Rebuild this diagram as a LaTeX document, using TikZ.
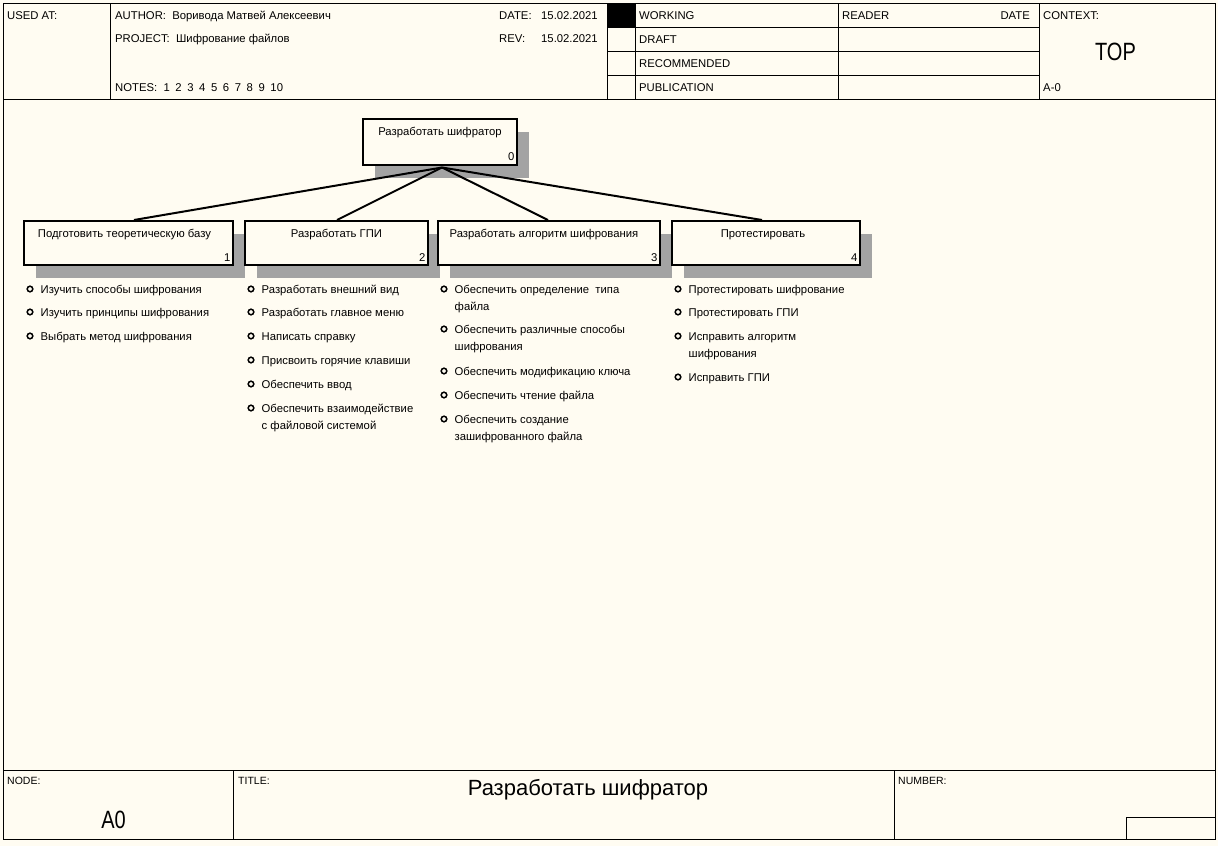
\documentclass[tikz,border=0pt]{standalone}
\usepackage{fontspec}
\usepackage{graphicx}
\setmainfont{Liberation Sans}
\usetikzlibrary{calc,shadows}
\definecolor{paper}{RGB}{255,252,242}
\definecolor{dither}{gray}{0.64}
\newcommand{\fs}[1]{\fontsize{#1}{#1}\selectfont}
\newcommand{\lnstrut}{\rule{0pt}{10pt}}
\newcommand{\gap}{\hspace{5.6pt}}
% bullet item: name, bullet x, row centre y, text
\newcommand{\bitem}[4]{%
  \node[dot] (#1d) at (#2,#3) {};
  \node[itemtext] (#1) at (#2+10.5,#3-5.7) {\lnstrut#4};
}
\begin{document}
\begin{tikzpicture}[x=1pt,y=-1pt,
  frame/.style={line width=1pt},
  hdr/.style={anchor=base west, inner sep=0pt, font=\fs{11.3}},
  hdrR/.style={anchor=base east, inner sep=0pt, font=\fs{11.3}},
  foot/.style={anchor=base west, inner sep=0pt, font=\fs{10.5}},
  actbox/.style={draw, line width=2pt, fill=paper, inner sep=0pt,
    general shadow={fill=dither, shadow xshift=12pt, shadow yshift=-13pt}},
  acttitle/.style={anchor=base, inner sep=0pt, font=\fs{11.3}},
  actnum/.style={anchor=base east, inner sep=0pt, font=\fs{11.3}},
  link/.style={line width=2pt},
  dot/.style={circle, draw, line width=1.5pt, inner sep=0pt, minimum size=5.6pt},
  itemtext/.style={anchor=north west, inner sep=0pt, align=left, font=\fontsize{11.3}{16.5}\selectfont},
]
% sheet
\fill[paper] (0,0) rectangle (1218,846);
\useasboundingbox (0,0) rectangle (1218,846);

% outer frame and the header / footer bands
\draw[frame] (3,3) rectangle (1215,839);
\draw[frame] (3,99) -- (1215,99);
\draw[frame] (3,770) -- (1215,770);
\foreach \vx in {110,607,635,838,1039} \draw[frame] (\vx,3) -- (\vx,99);
\foreach \hy in {27,51,75} \draw[frame] (607,\hy) -- (1039,\hy);
\fill (607,3) rectangle (635,27);

% header texts
\node[hdr] (usedat) at (7,19.5) {USED AT:};
\node[hdr] (author) at (115,19.5) {AUTHOR:\ \ Воривода Матвей Алексеевич};
\node[hdr] (project) at (115,42.5) {PROJECT:\ \ Шифрование файлов};
\node[hdr] (notes) at (115,91.5) {NOTES:\ \ 1\gap2\gap3\gap4\gap5\gap6\gap7\gap8\gap9\gap10};
\node[hdr] (datel) at (499,19.5) {DATE:};
\node[hdr] (datev) at (541,19.5) {15.02.2021};
\node[hdr] (revl) at (499,42.5) {REV:};
\node[hdr] (revv) at (541,42.5) {15.02.2021};
\node[hdr] (working) at (639,19.5) {WORKING};
\node[hdr] (draft) at (639,43.5) {DRAFT};
\node[hdr] (recommended) at (639,67.5) {RECOMMENDED};
\node[hdr] (publication) at (639,91.5) {PUBLICATION};
\node[hdr] (reader) at (842,19.5) {READER};
\node[hdrR] (rdate) at (1030,19.5) {DATE};
\node[hdr] (context) at (1043,19.5) {CONTEXT:};
\node[anchor=base, inner sep=0pt, font=\fs{25}] (top) at (1115.5,60) {\scalebox{0.8}[1]{TOP}};
\node[hdr] (ctxnode) at (1043,91.5) {A-0};

% activity boxes
\node[actbox, minimum width=154pt, minimum height=46pt] (b0) at (440,142) {};
\node[actbox, minimum width=209pt, minimum height=44pt] (b1) at (128.5,243) {};
\node[actbox, minimum width=183pt, minimum height=44pt] (b2) at (336.5,243) {};
\node[actbox, minimum width=222pt, minimum height=44pt] (b3) at (549,243) {};
\node[actbox, minimum width=188pt, minimum height=44pt] (b4) at (766,243) {};

\node[acttitle] (b0t) at ($(b0.north)+(0,17.5)$) {Разработать шифратор};
\node[acttitle] (b1t) at ($(b1.north)+(-4,17.5)$) {Подготовить теоретическую базу};
\node[acttitle] (b2t) at ($(b2.north)+(0,17.5)$) {Разработать ГПИ};
\node[acttitle] (b3t) at ($(b3.north)+(-5,17.5)$) {Разработать алгоритм шифрования};
\node[acttitle] (b4t) at ($(b4.north)+(-3,17.5)$) {Протестировать};

\node[actnum] (b0n) at ($(b0.south east)+(-3.5,-5.5)$) {0};
\node[actnum] (b1n) at ($(b1.south east)+(-3.5,-4.5)$) {1};
\node[actnum] (b2n) at ($(b2.south east)+(-3.5,-4.5)$) {2};
\node[actnum] (b3n) at ($(b3.south east)+(-3.5,-4.5)$) {3};
\node[actnum] (b4n) at ($(b4.south east)+(-3.5,-4.5)$) {4};

% decomposition links
\coordinate (hub) at ($(b0.south)+(2,1.5)$);
\draw[link] (hub) -- ($(b1.north)+(5.5,0)$);
\draw[link] (hub) -- ($(b2.north)+(0.5,0)$);
\draw[link] (hub) -- ($(b3.north)+(-1,0)$);
\draw[link] (hub) -- ($(b4.north)+(-4,0)$);

% work items under each box
\bitem{i11}{30}{289}{Изучить способы шифрования}
\bitem{i12}{30}{312}{Изучить принципы шифрования}
\bitem{i13}{30}{336}{Выбрать метод шифрования}

\bitem{i21}{251}{289}{Разработать внешний вид}
\bitem{i22}{251}{312}{Разработать главное меню}
\bitem{i23}{251}{336}{Написать справку}
\bitem{i24}{251}{360}{Присвоить горячие клавиши}
\bitem{i25}{251}{384}{Обеспечить ввод}
\bitem{i26}{251}{408}{Обеспечить взаимодействие\\с файловой системой}

\bitem{i31}{444}{289}{Обеспечить определение\ \ типа\\файла}
\bitem{i32}{444}{329}{Обеспечить различные способы\\шифрования}
\bitem{i33}{444}{371}{Обеспечить модификацию ключа}
\bitem{i34}{444}{395}{Обеспечить чтение файла}
\bitem{i35}{444}{419}{Обеспечить создание\\зашифрованного файла}

\bitem{i41}{678}{289}{Протестировать шифрование}
\bitem{i42}{678}{312}{Протестировать ГПИ}
\bitem{i43}{678}{336}{Исправить алгоритм\\шифрования}
\bitem{i44}{678}{377}{Исправить ГПИ}

% footer
\foreach \vx in {233,894} \draw[frame] (\vx,770) -- (\vx,839);
\draw[frame] (1126,817) rectangle (1215,839);
\node[foot] (nodel) at (7,784) {NODE:};
\node[anchor=base, inner sep=0pt, font=\fs{25}] (nodev) at (113.5,828) {\scalebox{0.8}[1]{A0}};
\node[foot] (titlel) at (238,784) {TITLE:};
\node[anchor=base, inner sep=0pt, font=\fs{22}] (titlev) at (588,795) {Разработать шифратор};
\node[foot] (numberl) at (898,784) {NUMBER:};
\end{tikzpicture}
\end{document}
